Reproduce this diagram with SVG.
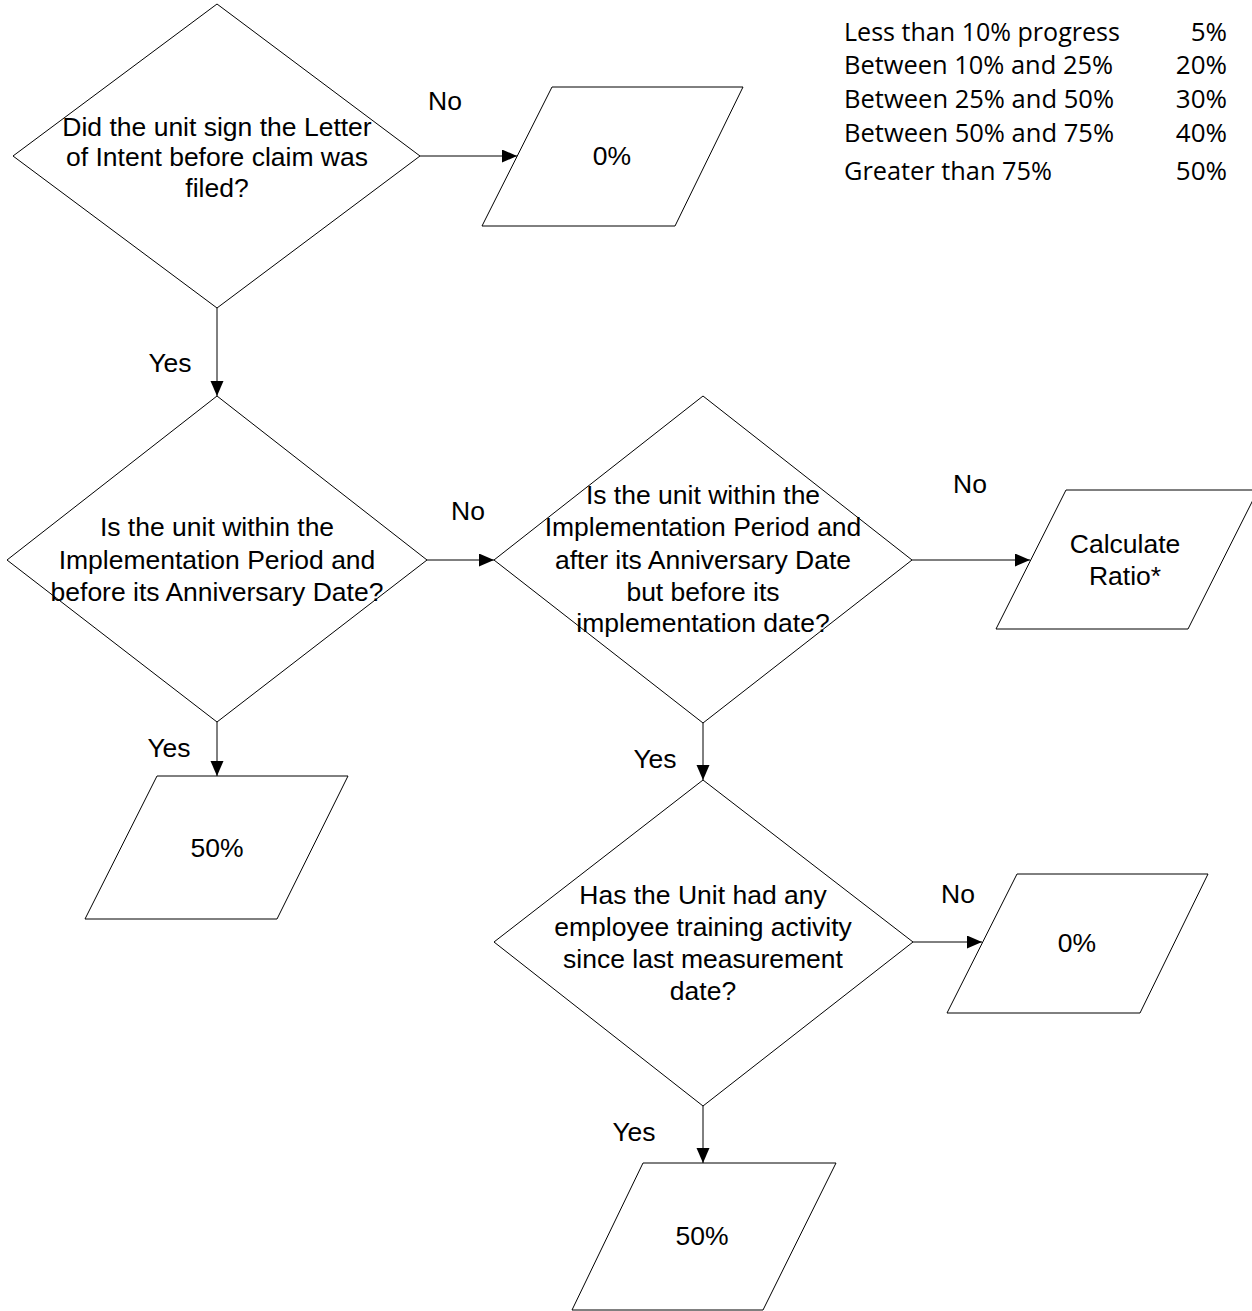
<svg xmlns="http://www.w3.org/2000/svg" width="1252" height="1311" viewBox="0 0 1252 1311">
<defs>
<style>
.shape{fill:#fff;stroke:#000;stroke-width:1}
.conn{fill:none;stroke:#000;stroke-width:1;marker-end:url(#arr)}
.t{font-family:"Liberation Sans",Arial,sans-serif;font-size:26.5px;fill:#000;text-anchor:middle}
.tb{font-family:"Open Sans",Lato,sans-serif;font-size:26px;fill:#000}
.tr{text-anchor:end}
</style>
<marker id="arr" markerUnits="userSpaceOnUse" markerWidth="16" markerHeight="14" refX="15" refY="6.5" orient="auto">
<path d="M0,0 L15,6.5 L0,13 Z" fill="#000"/>
</marker>
</defs>
<rect width="1252" height="1311" fill="#fff"/>

<g id="connectors">
<line class="conn" x1="420" y1="156" x2="517" y2="156"/>
<line class="conn" x1="217" y1="308" x2="217" y2="396"/>
<line class="conn" x1="427" y1="560" x2="494" y2="560"/>
<line class="conn" x1="912" y1="560" x2="1030" y2="560"/>
<line class="conn" x1="217" y1="722" x2="217" y2="776"/>
<line class="conn" x1="703" y1="723" x2="703" y2="780"/>
<line class="conn" x1="913" y1="942" x2="982" y2="942"/>
<line class="conn" x1="703" y1="1106" x2="703" y2="1163"/>
<text class="t" x="445" y="110">No</text>
<text class="t" x="170" y="372">Yes</text>
<text class="t" x="468" y="520">No</text>
<text class="t" x="970" y="493">No</text>
<text class="t" x="169" y="757">Yes</text>
<text class="t" x="655" y="768">Yes</text>
<text class="t" x="958" y="903">No</text>
<text class="t" x="634" y="1141">Yes</text>
</g>

<g id="d1">
<polygon class="shape" points="217,4 420,156 217,308 13,156"/>
<text class="t" x="217" y="136">Did the unit sign the Letter</text>
<text class="t" x="217" y="166">of Intent before claim was</text>
<text class="t" x="217" y="197">filed?</text>
</g>

<g id="p0a">
<polygon class="shape" points="552,87 743,87 675,226 482,226"/>
<text class="t" x="612" y="165">0%</text>
</g>

<g id="d2">
<polygon class="shape" points="217,396 427,560 217,722 7,560"/>
<text class="t" x="217" y="536">Is the unit within the</text>
<text class="t" x="217" y="569">Implementation Period and</text>
<text class="t" x="217" y="601">before its Anniversary Date?</text>
</g>

<g id="d3">
<polygon class="shape" points="703,396 912,560 703,723 494,560"/>
<text class="t" x="703" y="504">Is the unit within the</text>
<text class="t" x="703" y="536">Implementation Period and</text>
<text class="t" x="703" y="569">after its Anniversary Date</text>
<text class="t" x="703" y="601">but before its</text>
<text class="t" x="703" y="632">implementation date?</text>
</g>

<g id="pcalc">
<polygon class="shape" points="1066,490 1258,490 1188,629 996,629"/>
<text class="t" x="1125" y="553">Calculate</text>
<text class="t" x="1125" y="585">Ratio*</text>
</g>

<g id="p50a">
<polygon class="shape" points="157,776 348,776 277,919 85,919"/>
<text class="t" x="217" y="857">50%</text>
</g>

<g id="d4">
<polygon class="shape" points="703,780 913,942 703,1106 494,942"/>
<text class="t" x="703" y="904">Has the Unit had any</text>
<text class="t" x="703" y="936">employee training activity</text>
<text class="t" x="703" y="968">since last measurement</text>
<text class="t" x="703" y="1000">date?</text>
</g>

<g id="p0b">
<polygon class="shape" points="1017,874 1208,874 1140,1013 947,1013"/>
<text class="t" x="1077" y="952">0%</text>
</g>

<g id="p50b">
<polygon class="shape" points="643,1163 836,1163 763,1310 572,1310"/>
<text class="t" x="702" y="1245">50%</text>
</g>

<g id="table">
<text class="tb" x="844" y="41" textLength="276" lengthAdjust="spacingAndGlyphs">Less than 10% progress</text>
<text class="tb" x="844" y="74" textLength="269" lengthAdjust="spacingAndGlyphs">Between 10% and 25%</text>
<text class="tb" x="844" y="108" textLength="270" lengthAdjust="spacingAndGlyphs">Between 25% and 50%</text>
<text class="tb" x="844" y="142" textLength="270" lengthAdjust="spacingAndGlyphs">Between 50% and 75%</text>
<text class="tb" x="844" y="180" textLength="208" lengthAdjust="spacingAndGlyphs">Greater than 75%</text>
<text class="tb tr" x="1227" y="41">5%</text>
<text class="tb tr" x="1227" y="74">20%</text>
<text class="tb tr" x="1227" y="108">30%</text>
<text class="tb tr" x="1227" y="142">40%</text>
<text class="tb tr" x="1227" y="180">50%</text>
</g>
</svg>
